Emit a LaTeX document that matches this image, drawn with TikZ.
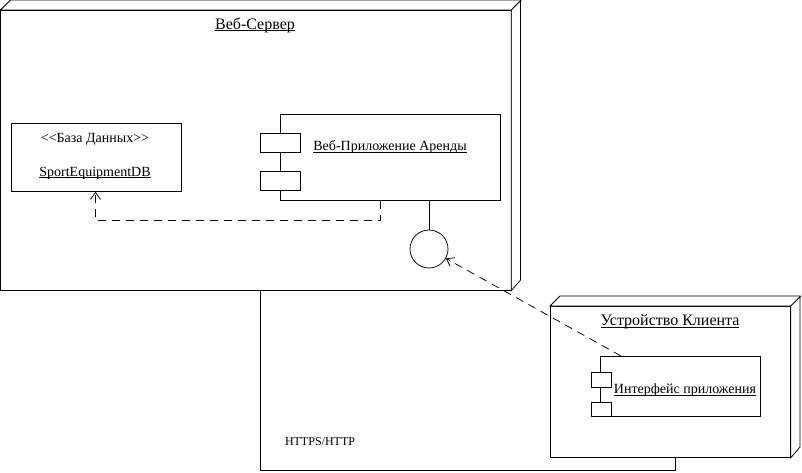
\documentclass[tikz,border=0pt]{standalone}
\usepackage{fontspec}
\setmainfont{Liberation Serif}
\usetikzlibrary{arrows.meta}
\newcommand\ulined[1]{\underline{\smash{#1}}\vphantom{#1}}

\begin{document}
\begin{tikzpicture}[x=1pt,y=-1pt,line width=0.75pt,
    box/.style={draw,fill=white,inner sep=0pt,anchor=north west},
    port/.style={box,minimum width=40,minimum height=19},
    title/.style={font=\fontsize{16}{19}\selectfont},
    label/.style={font=\fontsize{14}{17}\selectfont},
    dep/.style={dash pattern=on 8pt off 6pt,-{Straight Barb[length=7pt,width=10pt]}}
]
    \useasboundingbox (0,0) rectangle (802,473);
    % link between the nodes
    \node[box,draw=none,minimum width=415,minimum height=180] (link) at (260,290) {};
    \node[font=\fontsize{12}{14}\selectfont] (proto) at (320,442) {HTTPS/HTTP};
    % web server
    \node[box,minimum width=510,minimum height=280] (server) at (0.5,10) {};
    \draw[fill=white] (server.north west) -- ++(10,-10) -- ++(510,0) -- ++(0,280)
        -- (server.south east) -- (server.north east) -- cycle;
    \draw (server.north east) -- ++(10,-10);
    \node[title] (servertitle) at (255,25) {\ulined{Веб-Сервер}};
    \node[box,minimum width=170,minimum height=68] (db) at (10.5,123) {};
    \node[label] (dbtype) at (95,139) {<\kern0pt<База Данных>\kern0pt>};
    \node[label] (dbname) at (95,173) {\ulined{SportEquipmentDB}};
    \node[box,minimum width=220,minimum height=86] (app) at (280,114) {};
    \node[port] (appport1) at (260,133) {};
    \node[port] (appport2) at (260,171) {};
    \node[label] (applabel) at (390,147) {\ulined{Веб-Приложение Аренды}};
    \node[draw,circle,fill=white,minimum size=38,inner sep=0pt] (iface) at (429,249) {};
    \draw (app.south -| iface) -- (iface);
    \coordinate (appdep) at ([xshift=100pt]app.south west);
    \coordinate (dbdep) at ([xshift=85pt]db.south west);
    \draw[dep] (appdep) -- ++(0,20) -| (dbdep);
    % client device
    \node[box,minimum width=240,minimum height=151] (client) at (550,306) {};
    \draw[fill=white] (client.north west) -- ++(10,-10) -- ++(240,0) -- ++(0,151)
        -- (client.south east) -- (client.north east) -- cycle;
    \draw (client.north east) -- ++(10,-10);
    \node[title] (clienttitle) at (670,322) {\ulined{Устройство Клиента}};
    \node[box,minimum width=160,minimum height=60] (gui) at (600,356) {};
    \node[port,minimum width=20,minimum height=14.5] (guiport1) at (590.5,372) {};
    \node[port,minimum width=20,minimum height=14.5] (guiport2) at (590.5,401.5) {};
    \node[label] (guilabel) at (685,390) {\ulined{Интерфейс приложения}};
    \draw (link.north west) -- (link.south west) -- (link.south east) -- (link.south east |- client.south);
    \coordinate (guidep) at ([xshift=21pt]gui.north west);
    \draw[dep] (guidep) -- (iface);
\end{tikzpicture}
\end{document}
